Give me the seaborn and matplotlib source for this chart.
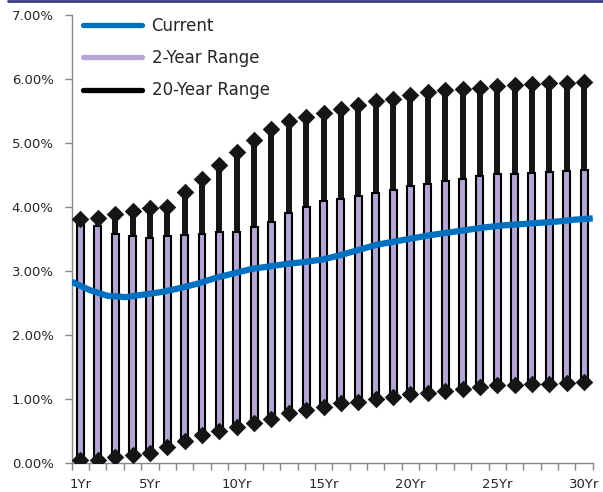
import numpy as np
import matplotlib
matplotlib.use("Agg")
import matplotlib.pyplot as plt
import seaborn as sns
from matplotlib.lines import Line2D
from matplotlib.ticker import FuncFormatter, FixedLocator

# -----------------------------
# Data (yields in %)
# -----------------------------
maturities = np.arange(1, 31)
tick_years = [1, 5, 10, 15, 20, 25, 30]

range20_high = [3.81, 3.82, 3.89, 3.94, 3.98, 4.00, 4.23, 4.44, 4.65, 4.86,
                5.04, 5.21, 5.34, 5.41, 5.47, 5.53, 5.59, 5.65, 5.69, 5.75,
                5.79, 5.82, 5.84, 5.86, 5.88, 5.90, 5.92, 5.93, 5.94, 5.95]
range20_low = [0.05, 0.05, 0.09, 0.12, 0.16, 0.25, 0.35, 0.43, 0.50, 0.56,
               0.62, 0.69, 0.78, 0.83, 0.88, 0.93, 0.96, 1.00, 1.03, 1.07,
               1.10, 1.12, 1.16, 1.19, 1.21, 1.22, 1.23, 1.24, 1.25, 1.26]
range2_high = [3.76, 3.70, 3.57, 3.54, 3.52, 3.54, 3.56, 3.58, 3.60, 3.61,
               3.68, 3.77, 3.90, 3.99, 4.09, 4.13, 4.17, 4.22, 4.27, 4.32,
               4.36, 4.40, 4.44, 4.48, 4.52, 4.52, 4.53, 4.55, 4.56, 4.57]
range2_low = range20_low
current = [2.83, 2.70, 2.61, 2.59, 2.63, 2.67, 2.73, 2.80, 2.89, 2.96,
           3.03, 3.07, 3.11, 3.14, 3.18, 3.25, 3.33, 3.41, 3.46, 3.51,
           3.56, 3.60, 3.64, 3.68, 3.71, 3.73, 3.75, 3.77, 3.80, 3.82]

BLUE = "#0070C0"
LAVENDER = "#B4A7D6"
AXIS_GREY = "#888888"

sns.set_style("white")
plt.rcParams["font.family"] = ["DejaVu Sans"]

fig = plt.figure(figsize=(6.03, 4.92), dpi=100)
ax = fig.add_axes([0.119, 0.059, 0.864, 0.911])

hi20 = np.array(range20_high) / 100
lo20 = np.array(range20_low) / 100
hi2 = np.array(range2_high) / 100
lo2 = np.array(range2_low) / 100

# 20-year range: thick black stems with diamond caps
ax.vlines(maturities, lo20, hi20, color="#151515", linewidth=4.3, zorder=2)
# 2-year range: lavender boxes
ax.bar(maturities, hi2 - lo2, bottom=lo2, width=0.4, color=LAVENDER,
       edgecolor="black", linewidth=1.5, zorder=3)
sns.scatterplot(x=maturities, y=hi20, marker="D", s=80, color="#151515",
                edgecolor="#151515", linewidth=0, ax=ax, zorder=4, legend=False)
sns.scatterplot(x=maturities, y=lo20, marker="D", s=80, color="#151515",
                edgecolor="#151515", linewidth=0, ax=ax, zorder=4, legend=False)

ax.set_xlim(0.5, 30.5)
ax.set_ylim(0, 0.07)

# category axis: ticks between categories, labels on categories
ax.xaxis.set_major_locator(FixedLocator(np.arange(0.5, 31, 1)))
ax.xaxis.set_major_formatter(FuncFormatter(lambda v, p: ""))
ax.xaxis.set_minor_locator(FixedLocator(tick_years))
ax.xaxis.set_minor_formatter(FuncFormatter(lambda v, p: f"{int(round(v))}Yr"))
ax.tick_params(axis="x", which="major", direction="out", length=5,
               color=AXIS_GREY, width=1, bottom=True)
ax.tick_params(axis="x", which="minor", length=0, pad=11, labelsize=9.5,
               bottom=True)

ax.set_yticks(np.arange(0, 0.0701, 0.01))
ax.yaxis.set_major_formatter(FuncFormatter(lambda v, p: f"{v * 100:.2f}%"))
ax.tick_params(axis="y", direction="out", length=5, color=AXIS_GREY,
               width=1, pad=8, labelsize=9.5, left=True)

for side in ["top", "right"]:
    ax.spines[side].set_visible(False)
for side in ["left", "bottom"]:
    ax.spines[side].set_color(AXIS_GREY)
    ax.spines[side].set_linewidth(1)

# current curve sits on its own category axis spanning the full width
ax2 = ax.twiny()
sns.lineplot(x=maturities, y=np.array(current) / 100, color=BLUE,
             linewidth=4.5, ax=ax2, solid_capstyle="butt", solid_joinstyle="round")
ax2.set_xlim(1, 30)
ax2.set_ylim(0, 0.07)
ax2.set_xticks([])
ax2.set_xlabel("")
for s in ax2.spines.values():
    s.set_visible(False)

handles = [
    Line2D([], [], color=BLUE, linewidth=3.8),
    Line2D([], [], color=LAVENDER, linewidth=3.8),
    Line2D([], [], color="black", linewidth=3.8),
]
ax2.legend(handles, ["Current", "2-Year Range", "20-Year Range"],
           loc="upper left", bbox_to_anchor=(0.022, 0.995), frameon=False,
           fontsize=12, handlelength=3.5, handletextpad=0.6,
           labelspacing=0.85, borderaxespad=0, borderpad=0)

# thin navy rule across the top of the figure
fig.add_artist(Line2D([0.013, 1.0], [0.997, 0.997], transform=fig.transFigure,
                      color="#3D3A85", linewidth=2))

fig.savefig("out.png", dpi=100)
